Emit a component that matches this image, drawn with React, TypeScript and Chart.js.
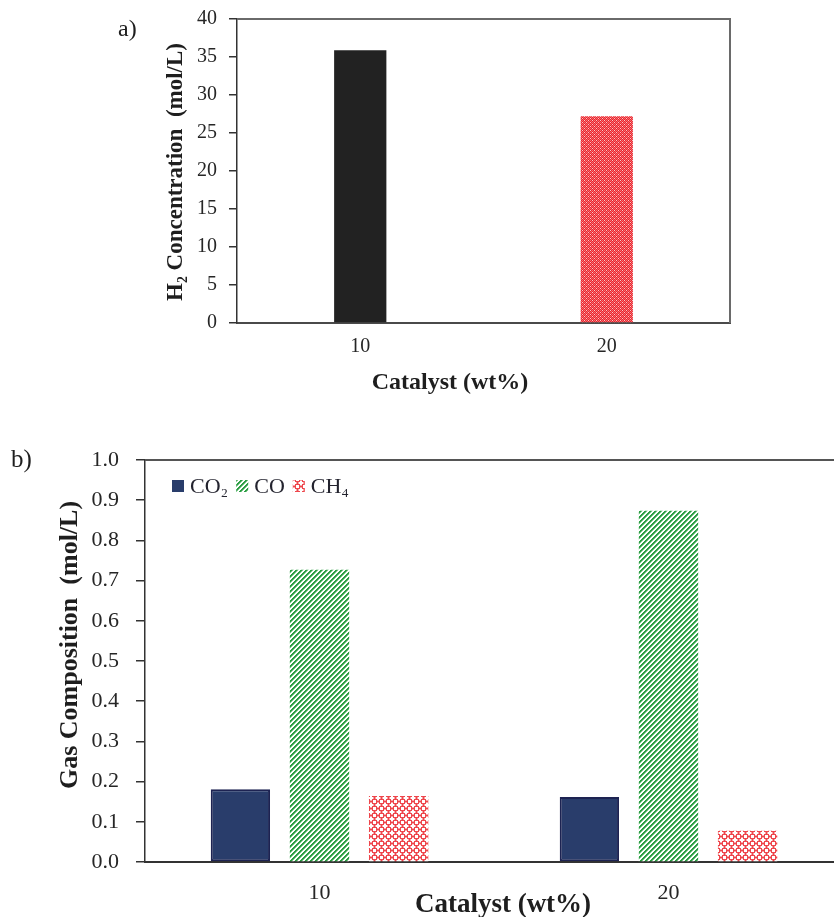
import React, { useEffect, useRef } from 'react';
import { Chart, registerables } from 'chart.js';

Chart.register(...registerables);

// ---------- data ----------
const catalystLabels = ['10', '20'];
const h2Concentration = [35.9, 27.2];

const gasSeriesNames = ['CO₂', 'CO', 'CH₄'];
const co2Composition = [0.181, 0.162];
const coComposition = [0.727, 0.874];
const ch4Composition = [0.164, 0.078];

const h2AxisTitle = 'H₂ Concentration  (mol/L)';
const gasAxisTitle = 'Gas Composition  (mol/L)';
const catalystAxisTitle = 'Catalyst (wt%)';

const SERIF = "'Liberation Serif', 'Times New Roman', serif";

// ---------- patterns ----------
function makePattern(size: number, pix: (x: number, y: number) => number[]) {
  const c = document.createElement('canvas');
  c.width = size;
  c.height = size;
  const ctx = c.getContext('2d')!;
  const img = ctx.createImageData(size, size);
  for (let y = 0; y < size; y++) {
    for (let x = 0; x < size; x++) {
      const [r, g, b] = pix(x, y);
      const i = (y * size + x) * 4;
      img.data[i] = r;
      img.data[i + 1] = g;
      img.data[i + 2] = b;
      img.data[i + 3] = 255;
    }
  }
  ctx.putImageData(img, 0, 0);
  return ctx.createPattern(c, 'repeat')!;
}

function greenStripes() {
  return makePattern(5, (x, y) => {
    const d = (x + y) % 5;
    if (d === 0 || d === 1) return [44, 158, 68];
    if (d === 2) return [120, 196, 134];
    return [255, 255, 255];
  });
}

function redDenseTop() {
  return makePattern(4, (x, y) => {
    if ((x === 0 && y === 0) || (x === 2 && y === 2)) return [252, 196, 198];
    if ((x + y) % 2 === 0) return [246, 108, 112];
    return [232, 38, 46];
  });
}

function redRings() {
  return makePattern(7, (x, y) => {
    const d = Math.hypot(x - 3, y - 3);
    if (d >= 1.6 && d <= 3.0) return [238, 70, 76];
    if (d > 3.0 && d < 3.6) return [246, 160, 162];
    return [255, 255, 255];
  });
}

// ---------- plugins ----------
type TitleSpec = { text: string; font: string; x: number; y: number; rotate?: boolean };

function titlesPlugin(id: string, titles: TitleSpec[]) {
  return {
    id,
    afterDraw(chart: any) {
      const ctx = chart.ctx;
      ctx.save();
      ctx.fillStyle = '#1e1e1e';
      ctx.textAlign = 'center';
      ctx.textBaseline = 'middle';
      for (const t of titles) {
        ctx.save();
        ctx.font = t.font;
        ctx.translate(t.x, t.y);
        if (t.rotate) ctx.rotate(-Math.PI / 2);
        ctx.fillText(t.text, 0, 0);
        ctx.restore();
      }
      ctx.restore();
    },
  };
}

function framePlugin(id: string, color: string, width: number) {
  return {
    id,
    afterDraw(chart: any) {
      const { ctx, chartArea: a } = chart;
      ctx.save();
      ctx.strokeStyle = color;
      ctx.lineWidth = width;
      ctx.beginPath();
      ctx.moveTo(a.left, a.top);
      ctx.lineTo(a.right, a.top);
      ctx.lineTo(a.right, a.bottom);
      ctx.stroke();
      ctx.restore();
    },
  };
}

const legendPlugin = {
  id: 'insideLegend',
  afterDraw(chart: any) {
    const { ctx, chartArea: a } = chart;
    ctx.save();
    ctx.font = `22px ${SERIF}`;
    ctx.textBaseline = 'middle';
    ctx.textAlign = 'left';
    let x = a.left + 27;
    const yc = a.top + 26;
    chart.data.datasets.forEach((ds: any) => {
      ctx.fillStyle = ds.backgroundColor;
      ctx.fillRect(x, yc - 6, 12, 12);
      x += 18;
      ctx.fillStyle = '#23232e';
      ctx.fillText(ds.label, x, yc + 1);
      x += ctx.measureText(ds.label).width + 8;
    });
    ctx.restore();
  },
};

// ---------- component ----------
export default function App() {
  const topRef = useRef<HTMLCanvasElement>(null);
  const bottomRef = useRef<HTMLCanvasElement>(null);

  useEffect(() => {
    const tickColor = '#262626';

    const top = new Chart(topRef.current!, {
      type: 'bar',
      data: {
        labels: catalystLabels,
        datasets: [
          {
            label: 'H₂',
            data: h2Concentration,
            backgroundColor: ['#222222', redDenseTop()] as any,
            borderWidth: 0,
            categoryPercentage: 1,
            barPercentage: 0.212,
          },
        ],
      },
      options: {
        animation: false,
        responsive: false,
        maintainAspectRatio: false,
        layout: { padding: { left: 161, right: 104, top: 19, bottom: 25 } },
        plugins: { legend: { display: false }, tooltip: { enabled: false } },
        scales: {
          x: {
            grid: { display: false },
            border: { display: true, color: '#4a4a4a', width: 2 },
            ticks: { font: { family: SERIF, size: 20 }, color: tickColor, padding: 4 },
            afterFit: (s: any) => {
              s.height = 72;
              s.paddingLeft = 0;
              s.paddingRight = 0;
            },
          },
          y: {
            min: 0,
            max: 40,
            ticks: { stepSize: 5, font: { family: SERIF, size: 20 }, color: tickColor, padding: 12 },
            grid: { drawOnChartArea: false, drawTicks: true, tickLength: 8, color: '#333', lineWidth: 1.5 },
            border: { display: true, color: '#333', width: 1.5 },
            afterFit: (s: any) => {
              s.width = 76;
              s.paddingTop = 0;
              s.paddingBottom = 0;
            },
          },
        },
      },
      plugins: [
        framePlugin('topFrame', '#6a6a6a', 2),
        titlesPlugin('topTitles', [
          { text: catalystAxisTitle, font: `bold 24px ${SERIF}`, x: 450, y: 383 },
          { text: h2AxisTitle, font: `bold 23px ${SERIF}`, x: 176, y: 172, rotate: true },
        ]),
      ],
    });

    const bottom = new Chart(bottomRef.current!, {
      type: 'bar',
      data: {
        labels: catalystLabels,
        datasets: [
          {
            label: gasSeriesNames[0],
            data: co2Composition,
            backgroundColor: '#293d6b',
            borderColor: '#1d2352',
            borderWidth: 2,
            borderSkipped: false,
          },
          {
            label: gasSeriesNames[1],
            data: coComposition,
            backgroundColor: greenStripes() as any,
            borderWidth: 0,
          },
          {
            label: gasSeriesNames[2],
            data: ch4Composition,
            backgroundColor: redRings() as any,
            borderWidth: 0,
          },
        ],
      },
      options: {
        animation: false,
        responsive: false,
        maintainAspectRatio: false,
        datasets: { bar: { categoryPercentage: 0.68, barPercentage: 0.75 } },
        layout: { padding: { left: 55, right: 17, top: 40, bottom: 0 } },
        plugins: { legend: { display: false }, tooltip: { enabled: false } },
        scales: {
          x: {
            grid: { display: false },
            border: { display: true, color: '#333', width: 2 },
            ticks: { font: { family: SERIF, size: 22 }, color: tickColor, padding: 10 },
            afterFit: (s: any) => {
              s.height = 60;
              s.paddingLeft = 0;
              s.paddingRight = 0;
            },
          },
          y: {
            min: 0,
            max: 1,
            ticks: {
              stepSize: 0.1,
              font: { family: SERIF, size: 22 },
              color: tickColor,
              padding: 17,
              callback: (v: any) => Number(v).toFixed(1),
            },
            grid: { drawOnChartArea: false, drawTicks: true, tickLength: 9, color: '#333', lineWidth: 1.5 },
            border: { display: true, color: '#333', width: 1.5 },
            afterFit: (s: any) => {
              s.width = 90;
              s.paddingTop = 0;
              s.paddingBottom = 0;
            },
          },
        },
      },
      plugins: [
        framePlugin('bottomFrame', '#555', 2),
        legendPlugin,
        titlesPlugin('bottomTitles', [
          { text: catalystAxisTitle, font: `bold 27px ${SERIF}`, x: 503, y: 485 },
          { text: gasAxisTitle, font: `bold 26px ${SERIF}`, x: 70, y: 225, rotate: true },
        ]),
      ],
    });

    return () => {
      top.destroy();
      bottom.destroy();
    };
  }, []);

  const labelStyle: React.CSSProperties = {
    position: 'absolute',
    fontFamily: SERIF,
    fontSize: 24,
    lineHeight: '24px',
    color: '#1e1e1e',
  };

  return (
    <div
      style={{
        position: 'fixed',
        left: 0,
        top: 0,
        width: 834,
        height: 917,
        overflow: 'hidden',
        background: '#ffffff',
      }}
    >
      <canvas
        ref={topRef}
        width={834}
        height={420}
        style={{ position: 'absolute', left: 0, top: 0, width: 834, height: 420 }}
      />
      <canvas
        ref={bottomRef}
        width={860}
        height={502}
        style={{ position: 'absolute', left: 0, top: 420, width: 860, height: 502 }}
      />
      <div style={{ ...labelStyle, left: 118, top: 16 }}>a)</div>
      <div style={{ ...labelStyle, left: 11, top: 447, fontSize: 25 }}>b)</div>
    </div>
  );
}
